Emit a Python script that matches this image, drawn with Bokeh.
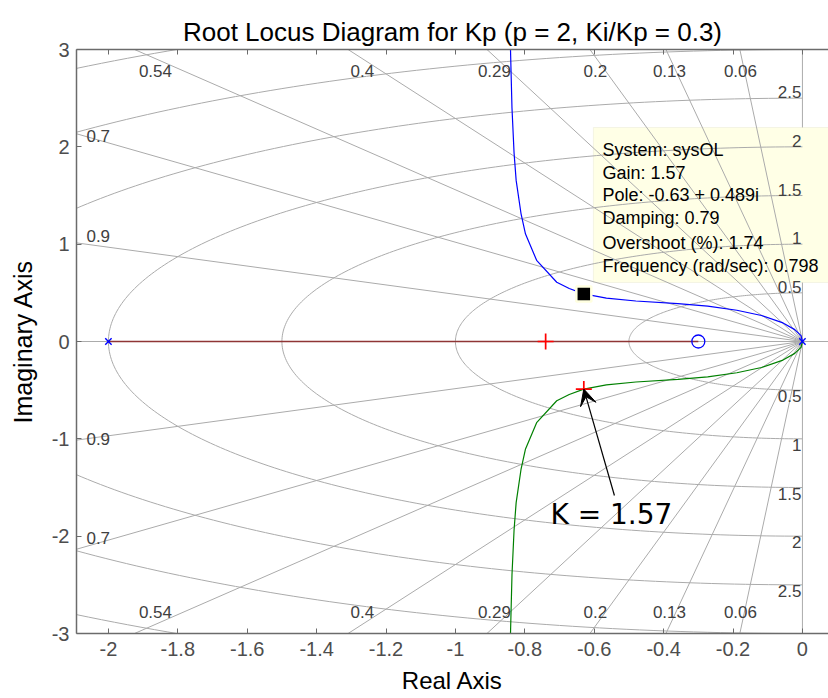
import numpy as np
from bokeh.plotting import figure
from bokeh.models import (Range1d, FixedTicker, LinearAxis, BoxAnnotation, Arrow,
                          VeeHead, Span)
from bokeh.core.properties import value
from bokeh.embed import file_html
from bokeh.resources import INLINE

# ---------------- data ----------------
title_text = "Root Locus Diagram for Kp (p = 2, Ki/Kp = 0.3)"
x_ticks = [-2, -1.8, -1.6, -1.4, -1.2, -1, -0.8, -0.6, -0.4, -0.2, 0]
y_ticks = [-3, -2, -1, 0, 1, 2, 3]

ol_poles_re = [-2.0, 0.0]
ol_poles_im = [0.0, 0.0]
ol_zeros_re = [-0.3]
ol_zeros_im = [0.0]

upper_re = [0.0, -0.004, -0.022, -0.056, -0.118, -0.189, -0.273, -0.359, -0.48,
            -0.565, -0.63, -0.672, -0.708, -0.766, -0.798, -0.811, -0.825, -0.831,
            -0.837, -0.841, -0.843]
upper_im = [0.0, 0.06, 0.122, 0.191, 0.267, 0.321, 0.363, 0.39, 0.416,
            0.445, 0.489, 0.545, 0.609, 0.834, 1.104, 1.315, 1.655, 1.936,
            2.399, 2.96, 3.28]
lower_re = [0.0, -0.004, -0.022, -0.056, -0.118, -0.189, -0.273, -0.359, -0.48,
            -0.565, -0.63, -0.672, -0.708, -0.766, -0.798, -0.811, -0.825, -0.831,
            -0.837, -0.841, -0.843]
lower_im = [0.0, -0.06, -0.122, -0.191, -0.267, -0.321, -0.363, -0.39, -0.416,
            -0.445, -0.489, -0.545, -0.609, -0.834, -1.104, -1.315, -1.655, -1.936,
            -2.399, -2.96, -3.28]
real_branch_re = [-2.0, -0.3]
real_branch_im = [0.0, 0.0]

sel_gain = "1.57"
sel_upper_re, sel_upper_im = -0.63, 0.489
sel_lower_re, sel_lower_im = -0.63, -0.489
sel_real_re, sel_real_im = -0.74, 0.0

datatip_lines = ["System: sysOL", "Gain: 1.57", "Pole: -0.63 + 0.489i",
                 "Damping: 0.79", "Overshoot (%): 1.74", "Frequency (rad/sec): 0.798"]

zeta_vals = [0.06, 0.13, 0.2, 0.29, 0.4, 0.54, 0.7, 0.9]
wn_vals = [0.5, 1.0, 1.5, 2.0, 2.5, 3.0, 3.5]
zeta_top_labels = ["0.54", "0.4", "0.29", "0.2", "0.13", "0.06"]
zeta_side_labels = ["0.7", "0.9"]
wn_labels = ["0.5", "1", "1.5", "2", "2.5"]

# ---------------- layout (pixels of the reference) ----------------
W, H = 828, 698
FL, FT, FB = 76, 49, 633
PXU = 347.0                 # px per real unit
X0 = -2.092
X1 = X0 + (W - FL) / PXU
PYU = (FB - FT) / 6.0

def dy(py):
    return (341.0 - py) / PYU

def dx(px):
    return (px - 802.0) / PXU

FONT = "Liberation Sans"
GRID = "#ababab"
LBL = "#404040"

p = figure(width=W, height=H, x_range=Range1d(X0, X1), y_range=Range1d(-3, 3),
           output_backend="svg", toolbar_location=None,
           min_border_left=FL, min_border_right=0, min_border_top=FT,
           min_border_bottom=H - FB)
p.outline_line_color = None
p.grid.visible = False
p.background_fill_color = "white"
p.border_fill_color = "white"

# title
p.title.text = title_text
p.title.align = "center"
p.title.text_font = FONT
p.title.text_font_size = "26px"
p.title.text_font_style = "normal"
p.title.text_color = "black"
p.title.standoff = 6

# axes
def style_axis(ax):
    ax.major_tick_in = 5
    ax.major_tick_out = 0
    ax.minor_tick_line_color = None
    ax.axis_line_color = "#6b6b6b"
    ax.axis_line_width = 1.5
    ax.major_tick_line_color = "#6b6b6b"
    ax.major_label_text_font = FONT
    ax.major_label_text_font_size = "20px"
    ax.major_label_text_color = "#4d4d4d"
    ax.axis_label_text_font = FONT
    ax.axis_label_text_font_size = "25px"
    ax.axis_label_text_font_style = "normal"
    ax.axis_label_text_color = "black"

xax = p.xaxis[0]
style_axis(xax)
xax.ticker = FixedTicker(ticks=x_ticks)
xax.major_label_overrides = {t: f"{t:g}" for t in x_ticks}
xax.major_label_standoff = 8
xax.axis_label = "Real Axis"
xax.axis_label_text_font_size = "24px"
xax.axis_label_standoff = 8

yax = p.yaxis[0]
style_axis(yax)
yax.ticker = FixedTicker(ticks=y_ticks)
yax.major_label_overrides = {t: f"{t:g}" for t in y_ticks}
yax.major_label_standoff = 7
yax.axis_label = "Imaginary Axis"
yax.axis_label_standoff = 12

top = LinearAxis(ticker=FixedTicker(ticks=x_ticks))
style_axis(top)
top.major_label_text_font_size = "0px"
top.major_label_text_color = None
top.major_label_text_alpha = 0
top.major_label_standoff = 0
p.add_layout(top, "above")

# ---------------- s-plane grid ----------------
p.add_layout(Span(location=0, dimension="width", line_color=GRID, line_width=1,
                  level="underlay"))
p.add_layout(Span(location=0, dimension="height", line_color=GRID, line_width=1,
                  level="underlay"))

z = np.array(zeta_vals)
r = 12.0
ray_x1 = list(-r * z) * 2
ray_y1 = list(r * np.sqrt(1 - z ** 2)) + list(-r * np.sqrt(1 - z ** 2))
p.segment(x0=[0.0] * len(ray_x1), y0=[0.0] * len(ray_x1), x1=ray_x1, y1=ray_y1,
          line_color=GRID, line_width=1)

phi = np.linspace(np.pi / 2, 3 * np.pi / 2, 241)
p.multi_line(xs=[list(w * np.cos(phi)) for w in wn_vals],
             ys=[list(w * np.sin(phi)) for w in wn_vals],
             line_color=GRID, line_width=1)

# datatip box (under the grid lines)
p.add_layout(BoxAnnotation(left=dx(593), right=X1 + 0.2, top=dy(127), bottom=dy(282),
                           fill_color="#ffffe6", fill_alpha=1.0,
                           line_color="#d9d9c4", line_width=1, level="underlay"))

# grid labels
top_lbl_x = [dx(155), dx(362), dx(494), dx(595), dx(669), dx(740)]
p.text(x=top_lbl_x, y=[dy(70)] * 6, text=zeta_top_labels,
       text_font=value(FONT), text_font_size="17px", text_color=LBL,
       text_align="center", text_baseline="middle")
p.text(x=top_lbl_x, y=[dy(611)] * 6, text=zeta_top_labels,
       text_font=value(FONT), text_font_size="17px", text_color=LBL,
       text_align="center", text_baseline="middle")
p.text(x=[dx(86)] * 4, y=[dy(135), dy(235), dy(537), dy(438)],
       text=zeta_side_labels * 2,
       text_font=value(FONT), text_font_size="17px", text_color=LBL,
       text_align="left", text_baseline="middle")
wn_lab_vals = [float(s) for s in wn_labels]
p.text(x=[dx(801)] * len(wn_labels), y=wn_lab_vals, text=wn_labels,
       text_font=value(FONT), text_font_size="17px", text_color=LBL,
       text_align="right", text_baseline="bottom")
p.text(x=[dx(801)] * len(wn_labels), y=[-v for v in wn_lab_vals], text=wn_labels,
       text_font=value(FONT), text_font_size="17px", text_color=LBL,
       text_align="right", text_baseline="top")

# ---------------- root locus ----------------
p.line(real_branch_re, real_branch_im, line_color="#8f3535", line_width=1.3)
p.line(upper_re, upper_im, line_color="#0000ff", line_width=1.2)
p.line(lower_re, lower_im, line_color="#008000", line_width=1.2)

p.scatter(ol_poles_re, ol_poles_im, marker="x", size=9, line_color="#0000ff", line_width=1.4)
p.scatter(ol_zeros_re, ol_zeros_im, marker="circle", size=13, fill_color=None,
          line_color="#0000ff", line_width=1.3)
p.scatter([sel_real_re, sel_lower_re], [sel_real_im, sel_lower_im], marker="cross",
          size=16, line_color="#ff0000", line_width=1.7)
p.scatter([sel_upper_re], [sel_upper_im], marker="square", size=15, fill_color="black",
          line_color="#ffffe0", line_width=2.5)

# datatip text
p.text(x=[dx(602)] * len(datatip_lines),
       y=[dy(149), dy(172), dy(194), dy(217), dy(242), dy(265)],
       text=datatip_lines, text_font=value(FONT), text_font_size="18px",
       text_color="black", text_align="left", text_baseline="middle")

# annotation arrow + text
p.add_layout(Arrow(end=VeeHead(size=16, fill_color="black", line_color="black"),
                   x_start=dx(614), y_start=dy(495), x_end=sel_lower_re, y_end=sel_lower_im,
                   line_color="black", line_width=1.2))
p.text(x=[dx(550)], y=[dy(514)], text=["K = " + sel_gain],
       text_font=value("DejaVu Sans"), text_font_size="28px", text_color="black",
       text_align="left", text_baseline="middle")

open("out.html", "w").write(file_html(p, INLINE))
